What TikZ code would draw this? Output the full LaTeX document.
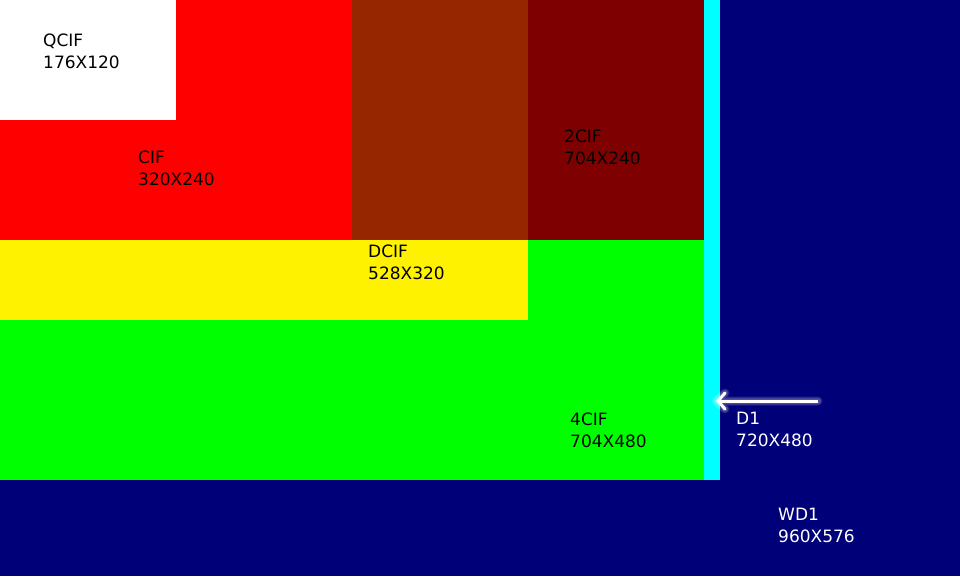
\documentclass[tikz,border=0pt]{standalone}
\usepackage{fontspec}
\setmainfont{DejaVu Sans}
\usetikzlibrary{calc,arrows.meta}
\definecolor{navyc}{HTML}{000078}
\definecolor{cyanc}{HTML}{00FFFF}
\definecolor{greenc}{HTML}{00FF00}
\definecolor{yellowc}{HTML}{FFF200}
\definecolor{maroonc}{HTML}{7F0000}
\definecolor{brownc}{HTML}{962600}
\definecolor{redc}{HTML}{FF0000}
\tikzset{
  lbl/.style={anchor=north west, inner sep=0pt, align=left,
    font=\fontsize{17}{22}\selectfont},
}
\begin{document}
\begin{tikzpicture}[x=1pt,y=-1pt]
\useasboundingbox (0,0) rectangle (960,576);
% areas
\fill[navyc]   (0,0) rectangle (960,576);
\fill[cyanc]   (0,0) rectangle (720,480);
\fill[greenc]  (0,0) rectangle (704,480);
\fill[yellowc] (0,0) rectangle (528,320);
\fill[maroonc] (0,0) rectangle (704,240);
\fill[brownc]  (0,0) rectangle (528,240);
\fill[redc]    (0,0) rectangle (352,240);
\fill[white]   (0,0) rectangle (176,120);
% labels
\node[lbl,text=black] (qcif)    at (43,34)   {QCIF\\176X120};
\node[lbl,text=black] (cif)     at (138,151) {CIF\\320X240};
\node[lbl,text=black] (twocif)  at (564,130) {2CIF\\704X240};
\node[lbl,text=black] (dcif)    at (368,245) {DCIF\\528X320};
\node[lbl,text=black] (fourcif) at (570,413) {4CIF\\704X480};
\node[lbl,text=white] (done)    at (736,412) {D1\\720X480};
\node[lbl,text=white] (wdone)   at (778,508) {WD1\\960X576};
% arrow
\coordinate (tail) at (818,401);
\coordinate (head) at (716,401);
\foreach \w in {9,7,5}{
  \draw[white,opacity=0.12,line width=\w pt,line cap=round,line join=round]
    (tail) -- (head) ($(head)+(9,-8)$) -- (head) -- ($(head)+(9,8)$);}
\draw[white,line width=3pt,line join=round,
  -{Straight Barb[length=7pt,width=16pt,line cap=round]}] (tail) -- (head);
\end{tikzpicture}
\end{document}
